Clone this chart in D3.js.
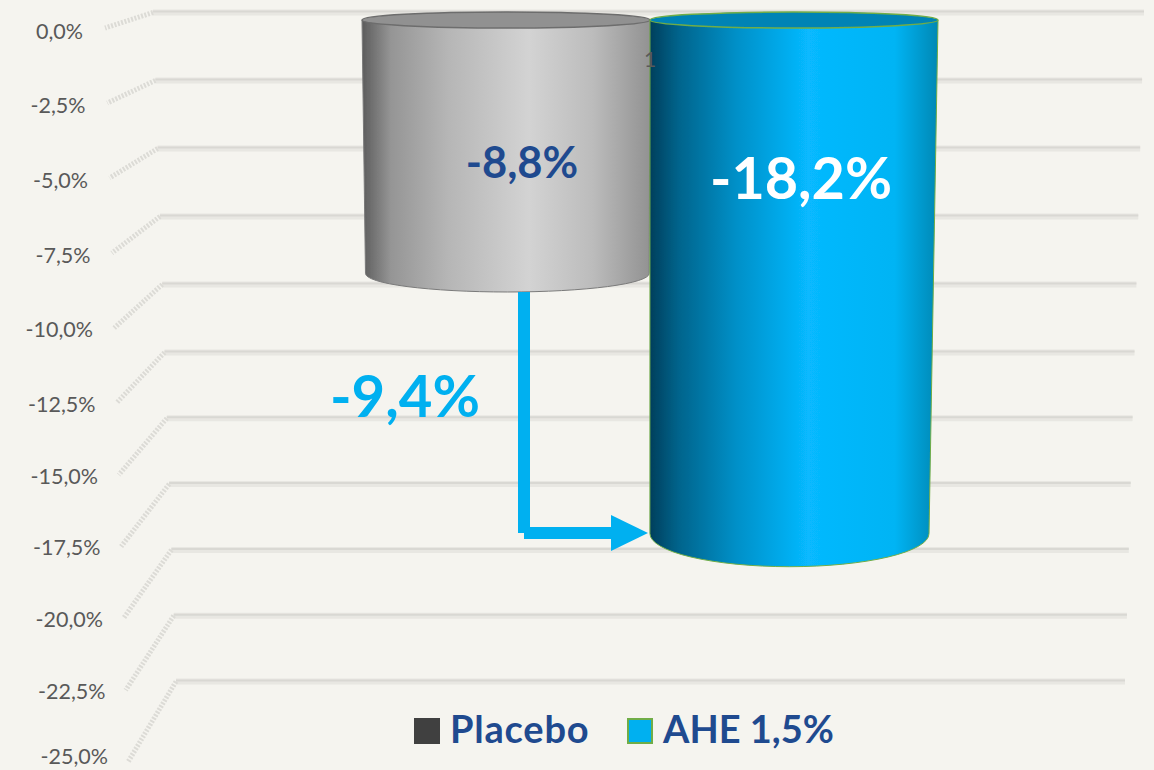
<!DOCTYPE html>
<html>
<head>
<meta charset="utf-8">
<script src="https://cdn.jsdelivr.net/npm/d3@7"></script>
<style>
  html, body { margin: 0; padding: 0; background: #f5f4ef; overflow: hidden; }
  text { font-family: Lato, "Open Sans", sans-serif; }
</style>
</head>
<body>
<div id="diagram"></div>
<script>
var categories = ["Placebo", "AHE 1,5%"]
var values = [-8.8, -18.2]
var valueLabels = ["-8,8%", "-18,2%"]
var tickValues = [0, -2.5, -5, -7.5, -10, -12.5, -15, -17.5, -20, -22.5, -25]
var tickLabels = ["0,0%", "-2,5%", "-5,0%", "-7,5%", "-10,0%", "-12,5%", "-15,0%", "-17,5%", "-20,0%", "-22,5%", "-25,0%"]
var diffLabel = "-9,4%"
var axisCategory = "1"

var w = 1154
var h = 770

var svg = d3.select("#diagram").append("svg")
  .attr("width", w)
  .attr("height", h)

svg.append("rect").attr("width", w).attr("height", h).attr("fill", "#f5f4ef")

var defs = svg.append("defs")
defs.append("filter").attr("id", "soft")
  .append("feGaussianBlur").attr("stdDeviation", 0.7)

function gradient(id, stops) {
  var g = defs.append("linearGradient").attr("id", id)
  stops.forEach(function(s) {
    g.append("stop").attr("offset", s[0]).attr("stop-color", s[1])
  })
}
gradient("grad-0", [[0, "#5c5c5c"], [0.1, "#959595"], [0.3, "#b6b6b6"], [0.58, "#d3d3d3"], [0.8, "#bcbcbc"], [1, "#929292"]])
gradient("grad-1", [[0, "#003f5c"], [0.1, "#00648c"], [0.3, "#0090c8"], [0.55, "#07b9ff"], [0.85, "#00b4f4"], [1, "#0088b4"]])

//the chart is in perspective: back and front edge of the floor use different y scales
var yBack = d3.scaleLinear().domain([0, -12.5, -25]).range([12.5, 352.5, 681.5])
var yFront = d3.scaleLinear().domain([0, -12.5, -25]).range([28, 403, 762])
var yLabel = d3.scaleLinear().domain([0, -12.5, -22.5, -25]).range([31, 404.5, 691, 756])
var xBackLeft = d3.scaleLinear().domain([0, -25]).range([153, 176])
var xBackRight = d3.scaleLinear().domain([0, -25]).range([1144, 1125])
var xFrontLeft = d3.scaleLinear().domain([0, -25]).range([105, 128])
var xLabel = d3.scaleLinear().domain([0, -25]).range([83, 108])
var radiusY = d3.scaleLinear().domain([0, -10, -25]).range([8, 20, 44])
var x = d3.scaleBand().domain(categories).range([362, 938])

//same position on the floor, moved to the depth of value v
function xAt(px, v) {
  var u = (px - xBackLeft(0)) / (xBackRight(0) - xBackLeft(0))
  return xBackLeft(v) + u * (xBackRight(v) - xBackLeft(v)) - 1.5
}

//grid
var grid = svg.append("g").attr("filter", "url(#soft)")
tickValues.forEach(function(t) {
  grid.append("line")
    .attr("x1", xBackLeft(t)).attr("x2", xBackRight(t))
    .attr("y1", yBack(t)).attr("y2", yBack(t))
    .attr("stroke", "#e8e7e2").attr("stroke-width", 6)
  grid.append("line")
    .attr("x1", xBackLeft(t)).attr("x2", xBackRight(t))
    .attr("y1", yBack(t) - 1).attr("y2", yBack(t) - 1)
    .attr("stroke", "#d9d8d3").attr("stroke-width", 2)
  grid.append("line")
    .attr("x1", xBackLeft(t)).attr("x2", xFrontLeft(t))
    .attr("y1", yBack(t)).attr("y2", yFront(t))
    .attr("stroke", "#dcdbd6").attr("stroke-width", 5)
    .attr("stroke-dasharray", "2,1.5")
})

//tick labels
svg.append("g").selectAll("text")
  .data(tickValues).enter().append("text")
  .attr("x", function(d) { return xLabel(d) })
  .attr("y", function(d) { return yLabel(d) })
  .attr("dy", "0.35em")
  .attr("text-anchor", "end")
  .attr("font-size", 21.5)
  .attr("fill", "#595959")
  .text(function(d, i) { return tickLabels[i] })

//cylinders
function bodyPath(cat, v) {
  var x0 = x(cat), x1 = x0 + x.bandwidth()
  var rTop = radiusY(0)
  var yt = yFront(0) - rTop
  var ry = radiusY(v)
  var yb = yFront(v) - ry
  var xl = xAt(x0, v), xr = xAt(x1, v)
  return "M" + x0 + "," + yt +
    "L" + xl + "," + yb +
    "A" + (xr - xl) / 2 + "," + ry + " 0 0 0 " + xr + "," + yb +
    "L" + x1 + "," + yt + "Z"
}

var bars = svg.append("g").attr("filter", "url(#soft)")
  .selectAll("g").data(categories).enter().append("g")

bars.append("path")
  .attr("d", function(d, i) { return bodyPath(d, values[i]) })
  .attr("fill", function(d, i) { return "url(#grad-" + i + ")" })
  .attr("stroke", function(d, i) { return i == 1 ? "#70ad47" : "#7a7a7a" })
  .attr("stroke-width", 1)

bars.append("ellipse")
  .attr("cx", function(d) { return x(d) + x.bandwidth() / 2 })
  .attr("cy", yFront(0) - radiusY(0))
  .attr("rx", x.bandwidth() / 2)
  .attr("ry", radiusY(0))
  .attr("fill", function(d, i) { return i == 1 ? "#0083b5" : "#919191" })
  .attr("stroke", function(d, i) { return i == 1 ? "#70ad47" : "#6d6d6d" })
  .attr("stroke-width", 1.5)

//stray category label of the original axis
svg.append("text")
  .attr("x", 650).attr("y", 60).attr("dy", "0.35em")
  .attr("text-anchor", "middle")
  .attr("font-size", 21)
  .attr("fill", "#595959")
  .text(axisCategory)

//value labels
svg.append("text")
  .attr("x", 522).attr("y", 163).attr("dy", "0.35em")
  .attr("text-anchor", "middle")
  .attr("font-size", 43.5).attr("font-weight", 700)
  .attr("fill", "#1f4a8f")
  .text(valueLabels[0])

svg.append("text")
  .attr("x", 801).attr("y", 179).attr("dy", "0.35em")
  .attr("text-anchor", "middle")
  .attr("font-size", 57.5).attr("font-weight", 700)
  .attr("fill", "#ffffff")
  .text(valueLabels[1])

//difference arrow
var arrow = svg.append("g").attr("fill", "#00b0f0")
arrow.append("rect")
  .attr("x", 518).attr("width", 12)
  .attr("y", yFront(values[0])).attr("height", 533 - yFront(values[0]))
arrow.append("rect")
  .attr("x", 524).attr("width", 88)
  .attr("y", 527).attr("height", 12)
arrow.append("path")
  .attr("d", "M611,515L648,533L611,551Z")

svg.append("text")
  .attr("x", 405).attr("y", 397).attr("dy", "0.35em")
  .attr("text-anchor", "middle")
  .attr("font-size", 58).attr("font-weight", 700)
  .attr("fill", "#00b0f0")
  .text(diffLabel)

//legend
svg.append("rect")
  .attr("x", 414).attr("y", 718).attr("width", 26).attr("height", 26)
  .attr("fill", "#404040")
svg.append("text")
  .attr("x", 450).attr("y", 743)
  .attr("font-size", 38).attr("font-weight", 700)
  .attr("letter-spacing", 0.8)
  .attr("fill", "#1f4a8f")
  .text(categories[0])
svg.append("rect")
  .attr("x", 628).attr("y", 719).attr("width", 24).attr("height", 24)
  .attr("fill", "#00b0f0").attr("stroke", "#70ad47").attr("stroke-width", 2)
svg.append("text")
  .attr("x", 663).attr("y", 743)
  .attr("font-size", 38).attr("font-weight", 700)
  .attr("fill", "#1f4a8f")
  .text(categories[1])
</script>
</body>
</html>
